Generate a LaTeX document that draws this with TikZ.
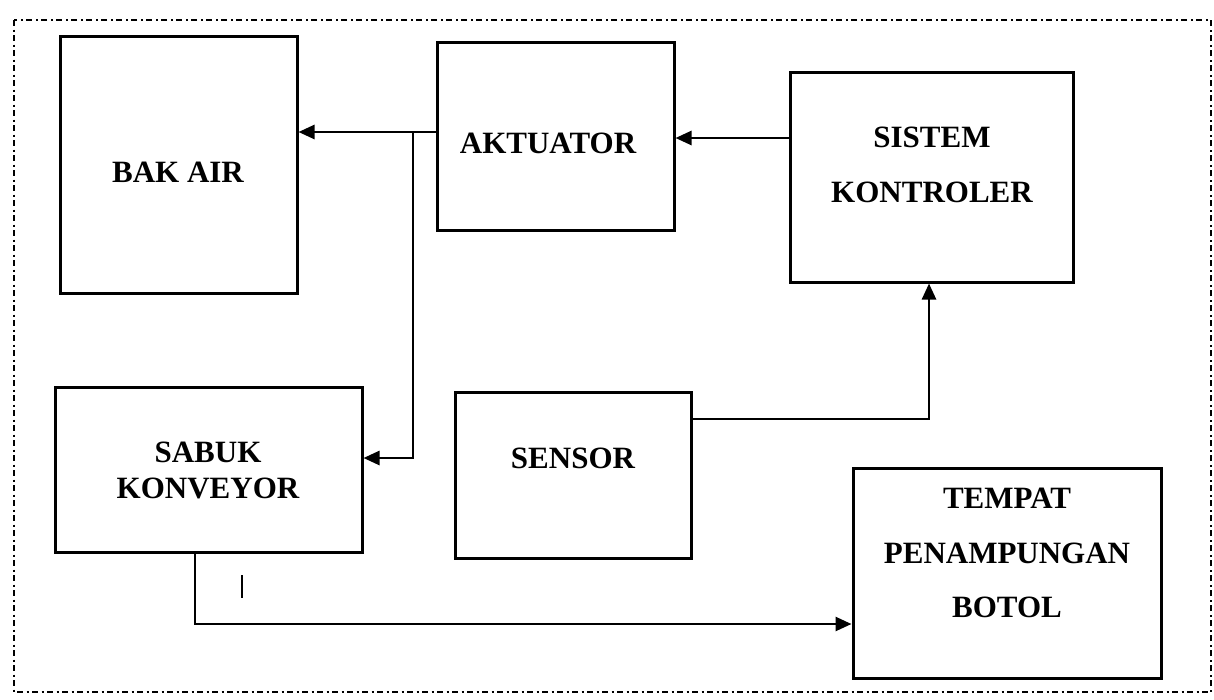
\documentclass[tikz,border=0pt]{standalone}
\usepackage{fontspec}
\setmainfont{Liberation Serif}
\usetikzlibrary{arrows.meta}
\begin{document}
\begin{tikzpicture}[x=1pt,y=-1pt,
  box/.style={draw, line width=3pt, inner sep=0pt, rectangle},
  lbl/.style={font=\fontsize{31}{36}\selectfont\bfseries, text height=20.5pt, text depth=0pt, inner sep=0pt},
  conn/.style={line width=2.6pt},
  arr/.style={conn, -{Triangle[length=16pt,width=14pt]}},
  border/.style={line width=2.2pt, dash pattern=on 6pt off 3.5pt on 2pt off 3.5pt}
]
\useasboundingbox (0,0) rectangle (1214,699);
\draw[border] (14,20) rectangle (1211,692);

% boxes
\node[box, minimum width=237pt, minimum height=257pt] (bak) at (178.5,164.5) {};
\node[box, minimum width=237pt, minimum height=188pt] (akt) at (555.5,136) {};
\node[box, minimum width=283pt, minimum height=210pt] (sis) at (931.5,177) {};
\node[box, minimum width=307pt, minimum height=165pt] (sab) at (208.5,469.5) {};
\node[box, minimum width=236pt, minimum height=166pt] (sen) at (573,475) {};
\node[box, minimum width=308pt, minimum height=210pt] (tem) at (1007,573) {};

% labels
\node[lbl] (bakT) at (178,172) {BAK AIR};
\node[lbl] (aktT) at (548,143) {AKTUATOR};
\node[lbl] (sisT1) at (932,137) {SISTEM};
\node[lbl] (sisT2) at (932,192) {KONTROLER};
\node[lbl] (sabT1) at (208,452) {SABUK};
\node[lbl] (sabT2) at (208,488) {KONVEYOR};
\node[lbl] (senT) at (573,458) {SENSOR};
\node[lbl] (temT1) at (1007,498) {TEMPAT};
\node[lbl] (temT2) at (1007,553) {PENAMPUNGAN};
\node[lbl] (temT3) at (1007,607) {BOTOL};

% connector coordinates
\coordinate (j1) at (413,132);
\coordinate (j2) at (413,458);
\coordinate (k) at (0,138);
\coordinate (s) at (929,419);
\coordinate (b) at (195,624);
\coordinate (m1) at (242,575);
\coordinate (m2) at (242,598);

% connectors
\draw[arr] (j1 -| akt.west) -- (j1 -| bak.east);
\draw[arr] (j1) -- (j2) -- (j2 -| sab.east);
\draw[arr] (k -| sis.west) -- (k -| akt.east);
\draw[arr] (s -| sen.east) -- (s) -- (s |- sis.south);
\draw[arr] (b |- sab.south) -- (b) -- (b -| tem.west);
\draw[conn] (m1) -- (m2);
\end{tikzpicture}
\end{document}
